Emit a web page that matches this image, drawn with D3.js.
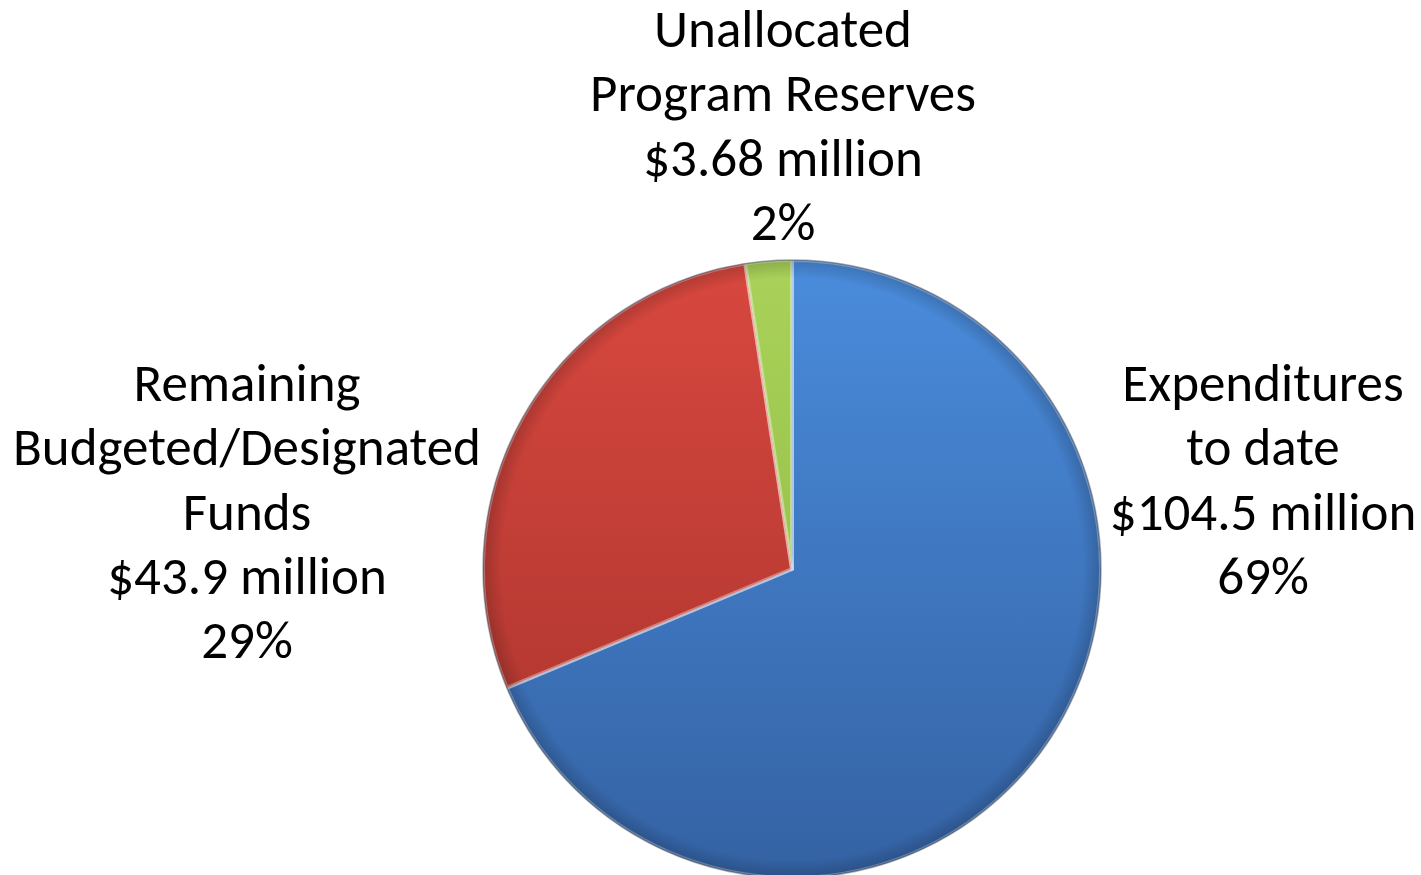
<!DOCTYPE html>
<html>
<head>
<meta charset="utf-8">
<script src="https://cdn.jsdelivr.net/npm/d3@7"></script>
<style>
  body { margin: 0; background: #fff; }
  svg text { font-family: Carlito, Lato, "Open Sans", sans-serif; fill: #000; }
</style>
</head>
<body>
<div id="chart"></div>
<script>
// Données
const categories = ["Expenditures to date", "Remaining Budgeted/Designated Funds", "Unallocated Program Reserves"];
const values = [104.5, 43.9, 3.68];
const percents = ["69%", "29%", "2%"];
const labelLines = [
  ["Expenditures", "to date", "$104.5 million", "69%"],
  ["Remaining", "Budgeted/Designated", "Funds", "$43.9 million", "29%"],
  ["Unallocated", "Program Reserves", "$3.68 million", "2%"]
];

const width = 1421, height = 875;
const cx = 792, cy = 569, radius = 309;

const svg = d3.select("#chart").append("svg")
    .attr("width", width)
    .attr("height", height);

// Dégradés pour chaque part
const colors = [
  ["#4a8cdc", "#3462a3"],
  ["#d8483f", "#a6322c"],
  ["#aad25a", "#87b43a"]
];
const defs = svg.append("defs");
colors.forEach((c, i) => {
  const g = defs.append("linearGradient")
      .attr("id", "grad" + i)
      .attr("gradientUnits", "userSpaceOnUse")
      .attr("x1", 0).attr("y1", -radius)
      .attr("x2", 0).attr("y2", radius);
  g.append("stop").attr("offset", "0%").attr("stop-color", c[0]);
  g.append("stop").attr("offset", "100%").attr("stop-color", c[1]);
});

// Ombre de bord (effet biseau)
const rim = defs.append("radialGradient").attr("id", "rim");
rim.append("stop").attr("offset", "94%").attr("stop-color", "#000").attr("stop-opacity", 0);
rim.append("stop").attr("offset", "100%").attr("stop-color", "#000").attr("stop-opacity", 0.18);

const pie = d3.pie().sort(null).value(d => d);
const arc = d3.arc().innerRadius(0).outerRadius(radius);
const arcs = pie(values);

const g = svg.append("g").attr("transform", `translate(${cx},${cy})`);

g.selectAll("path.slice")
  .data(arcs)
  .enter().append("path")
    .attr("class", "slice")
    .attr("d", arc)
    .attr("fill", (d, i) => `url(#grad${i})`)
    .attr("stroke", "rgba(255,255,255,0.35)")
    .attr("stroke-width", 4)
    .attr("stroke-linejoin", "round");

g.append("circle")
    .attr("r", radius)
    .attr("fill", "url(#rim)")
    .attr("stroke", "rgba(40,50,70,0.4)")
    .attr("stroke-width", 1.5);

// Étiquettes
const labelPos = [
  { x: 1263, y: 401 },
  { x: 247, y: 401 },
  { x: 783, y: 47 }
];
const lineH = 64.3;

labelLines.forEach((lines, i) => {
  const t = svg.append("text")
      .attr("text-anchor", "middle")
      .attr("font-size", 53);
  lines.forEach((l, j) => {
    t.append("tspan")
      .attr("x", labelPos[i].x)
      .attr("y", labelPos[i].y + j * lineH)
      .text(l);
  });
});
</script>
</body>
</html>
